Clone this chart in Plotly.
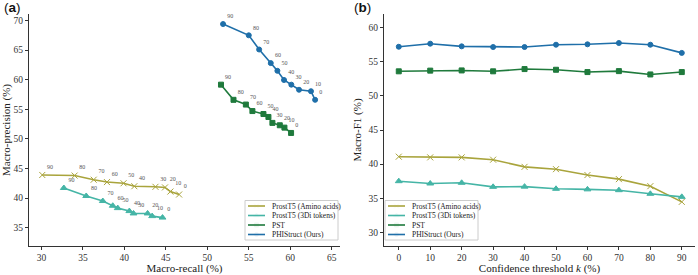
import plotly.graph_objects as go

# ---------- Data ----------
k_labels = ["90", "80", "70", "60", "50", "40", "30", "20", "10", "0"]

# Panel (a): macro-recall / macro-precision, ordered k = 90 ... 0
aa_recall = [30.1, 34.0, 36.3, 37.9, 39.9, 41.2, 43.75, 44.9, 45.55, 46.6]
aa_precision = [43.9, 43.8, 43.1, 42.7, 42.5, 42.0, 41.9, 41.8, 41.1, 40.6]
di_recall = [32.7, 35.4, 37.4, 38.6, 39.2, 40.6, 41.1, 42.8, 43.35, 44.6]
di_precision = [41.7, 40.35, 39.5, 38.7, 38.3, 37.8, 37.4, 37.4, 36.95, 36.7]
pst_recall = [51.65, 53.16, 54.65, 55.44, 56.77, 57.37, 57.85, 58.74, 59.3, 60.1]
pst_precision = [59.16, 56.6, 55.8, 54.7, 54.2, 53.7, 52.7, 52.3, 51.9, 51.0]
phi_recall = [51.9, 55.0, 56.25, 57.65, 58.45, 59.25, 60.13, 61.06, 62.5, 63.0]
phi_precision = [69.4, 67.5, 65.1, 62.8, 61.5, 59.95, 59.16, 58.3, 58.05, 56.6]

# Panel (b): macro-F1 vs confidence threshold k
k_values = [0, 10, 20, 30, 40, 50, 60, 70, 80, 90]
aa_f1 = [41.09, 40.99, 40.99, 40.65, 39.6, 39.26, 38.4, 37.8, 36.77, 34.47]
di_f1 = [37.5, 37.16, 37.26, 36.67, 36.7, 36.38, 36.3, 36.18, 35.65, 35.2]
pst_f1 = [53.6, 53.7, 53.73, 53.6, 53.93, 53.83, 53.49, 53.63, 53.14, 53.49]
phi_f1 = [57.2, 57.65, 57.26, 57.16, 57.16, 57.5, 57.56, 57.75, 57.5, 56.3]

series_names = ["ProstT5 (Amino acids)", "ProstT5 (3Di tokens)", "PST", "PHIStruct (Ours)"]
colors = ["#a9a43c", "#45b5a6", "#1f7a3c", "#1f6fa9"]
symbols = ["x-thin", "triangle-up", "square", "circle"]
msizes = [6, 6, 5, 5]

SERIF = "Liberation Serif, Times New Roman, serif"
W, H = 698, 275

fig = go.Figure()

left = [(aa_recall, aa_precision), (di_recall, di_precision),
        (pst_recall, pst_precision), (phi_recall, phi_precision)]
right = [aa_f1, di_f1, pst_f1, phi_f1]


def marker(i):
    return dict(symbol=symbols[i], size=msizes[i], color=colors[i],
                line=dict(color=colors[i], width=1))


for i, (xs, ys) in enumerate(left):
    fig.add_trace(go.Scatter(
        x=xs, y=ys, mode="lines+markers+text", name=series_names[i],
        text=k_labels, textposition="top right",
        textfont=dict(family=SERIF, size=6, color="#555"),
        line=dict(color=colors[i], width=1.6), marker=marker(i),
        xaxis="x", yaxis="y", showlegend=False, cliponaxis=False))

for i, ys in enumerate(right):
    fig.add_trace(go.Scatter(
        x=k_values, y=ys, mode="lines+markers", name=series_names[i],
        line=dict(color=colors[i], width=1.6), marker=marker(i),
        xaxis="x2", yaxis="y2", showlegend=False, cliponaxis=False))

# ---------- Compact custom legends (pixel overlay axis) ----------
shapes = []
annotations = []
legend_boxes = [(245, 338), (385, 478)]
entry_y = [206, 215.5, 225, 234.5]
for (bx0, bx1) in legend_boxes:
    shapes.append(dict(type="rect", xref="x3", yref="y3", x0=bx0, x1=bx1, y0=200.5, y1=240,
                       line=dict(color="#cccccc", width=1), fillcolor="rgba(255,255,255,0.9)",
                       layer="above"))
    for i, ey in enumerate(entry_y):
        shapes.append(dict(type="line", xref="x3", yref="y3", x0=bx0 + 3, x1=bx0 + 20,
                           y0=ey, y1=ey, line=dict(color=colors[i], width=1.6), layer="above"))
        annotations.append(dict(text=series_names[i], x=bx0 + 25, y=ey, xref="x3", yref="y3",
                                xanchor="left", yanchor="middle", showarrow=False,
                                font=dict(family=SERIF, size=7.5, color="#222")))
    fig.add_trace(go.Scatter(
        x=[bx0 + 11.5] * 4, y=entry_y, mode="markers",
        marker=dict(symbol=symbols, size=[s - 1 for s in msizes], color=colors,
                    line=dict(color=colors, width=1)),
        xaxis="x3", yaxis="y3", showlegend=False, hoverinfo="skip", cliponaxis=False))

axis_common = dict(showgrid=False, zeroline=False, showline=True, linecolor="#333",
                   linewidth=1, ticks="outside", ticklen=3, tickwidth=1, tickcolor="#333",
                   tickfont=dict(family=SERIF, size=9.5, color="#333"), automargin=False,
                   mirror=False)
ydom = [(H - 246) / H, (H - 14) / H]
title_font = dict(family=SERIF, size=11, color="#222")

annotations += [
    dict(text="(<b>a</b>)", x=2 / W, y=1 - 7.5 / H, xref="paper", yref="paper",
         xanchor="left", yanchor="middle", showarrow=False,
         font=dict(family="Liberation Sans, Arial, sans-serif", size=13.5, color="#111")),
    dict(text="(<b>b</b>)", x=352 / W, y=1 - 7.5 / H, xref="paper", yref="paper",
         xanchor="left", yanchor="middle", showarrow=False,
         font=dict(family="Liberation Sans, Arial, sans-serif", size=13.5, color="#111")),
]

fig.update_layout(
    width=W, height=H, margin=dict(l=0, r=0, t=0, b=0),
    paper_bgcolor="white", plot_bgcolor="rgba(0,0,0,0)", showlegend=False,
    xaxis=dict(axis_common, domain=[29 / W, 340 / W], range=[28.5, 66.0],
               tickvals=[30, 35, 40, 45, 50, 55, 60, 65],
               title=dict(text="Macro-recall (%)", font=title_font, standoff=2.5)),
    yaxis=dict(axis_common, domain=ydom, range=[31.9, 71.1],
               tickvals=[35, 40, 45, 50, 55, 60, 65, 70],
               title=dict(text="Macro-precision (%)", font=title_font, standoff=4)),
    xaxis2=dict(axis_common, domain=[384 / W, 695 / W], range=[-4.7, 94.2], anchor="y2",
                tickvals=k_values,
                title=dict(text="Confidence threshold <i>k</i> (%)", font=title_font, standoff=2.5)),
    yaxis2=dict(axis_common, domain=ydom, range=[28.0, 62.0], anchor="x2",
                tickvals=[30, 35, 40, 45, 50, 55, 60],
                title=dict(text="Macro-F1 (%)", font=title_font, standoff=4)),
    xaxis3=dict(domain=[0, 1], range=[0, W], visible=False, anchor="y3", fixedrange=True),
    yaxis3=dict(domain=[0, 1], range=[H, 0], visible=False, anchor="x3", fixedrange=True),
    shapes=shapes,
    annotations=annotations,
)

fig.write_html("out.html", config={"displayModeBar": False},
               post_script="document.body.style.margin='0';document.body.style.padding='0';"
                           "document.body.style.overflow='hidden';")
